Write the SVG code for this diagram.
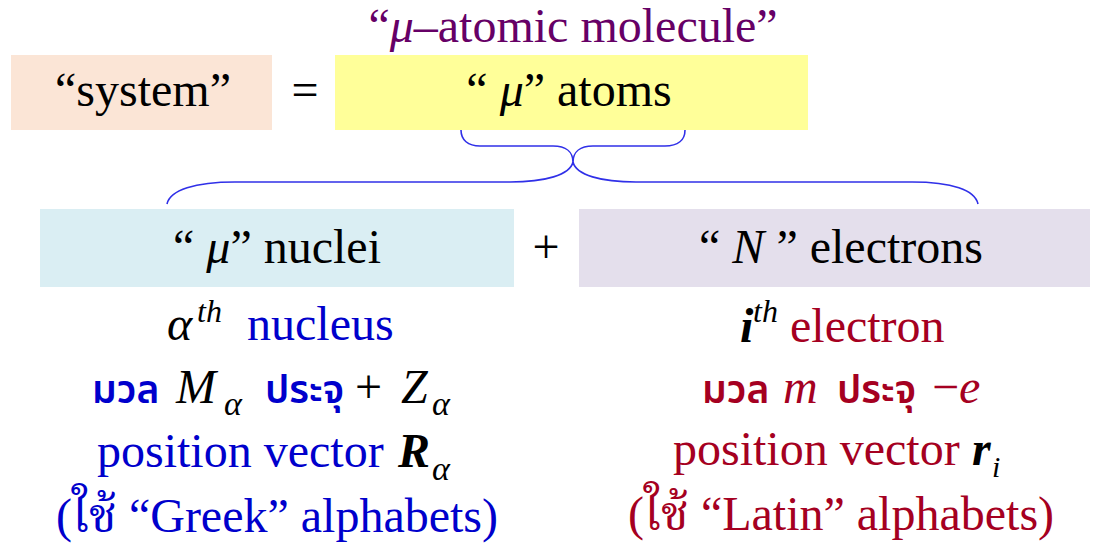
<svg xmlns="http://www.w3.org/2000/svg" width="1104" height="546" viewBox="0 0 1104 546">
<style>
text{font-family:'Liberation Serif','Times New Roman',serif;font-size:48px;fill:#000}
.i{font-style:italic}
.bi{font-style:italic;font-weight:bold}
.th{font-family:'Noto Sans Thai','Noto Sans','DejaVu Sans',sans-serif;font-size:39px;font-weight:600}
.tl{font-family:'Liberation Serif','Noto Serif Thai','Noto Sans Thai',serif}
.sup{font-size:32px;font-style:italic}
.sub{font-size:34px;font-style:italic}
.blue{fill:#0000CC}
.red{fill:#A50021}
.brace{fill:none;stroke:#3030E8;stroke-width:1.6}
</style>
<rect width="1104" height="546" fill="#fff"/>
<g font-family="Liberation Serif, serif">
<g id="title">
<text x="573" y="42" text-anchor="middle" style="fill:#660066">“<tspan class="i">μ</tspan>–atomic molecule”</text>
</g>
<g id="system">
<rect x="11" y="55" width="261" height="75" fill="#FBE5D6"/>
<text x="143" y="106" text-anchor="middle">“system”</text>
</g>
<g id="equals">
<text x="305" y="106" text-anchor="middle">=</text>
</g>
<g id="atoms">
<rect x="335" y="55" width="473" height="75" fill="#FFFF99"/>
<text x="569" y="106" text-anchor="middle">“ <tspan class="i">μ</tspan>” atoms</text>
</g>
<g id="connectors">
<path class="brace" d="M461,130 C461,140 468,146 480,146 L553,146 C566,146 573,152 573,162 C573,152 580,146 593,146 L665,146 C678,146 685,140 685,130"/>
<path class="brace" d="M167,204 C170,190 195,182 235,182 L510,182 C545,182 570,175 573,162 C576,175 601,182 636,182 L912,182 C952,182 975,190 978,204"/>
</g>
<g id="nuclei">
<rect x="40" y="209" width="474" height="78" fill="#DAEEF3"/>
<text x="277" y="263" text-anchor="middle">“ <tspan class="i">μ</tspan>” nuclei</text>
<text x="167" y="340" class="i">α</text>
<text x="197" y="322" class="sup">th</text>
<text x="247" y="340" class="blue">nucleus</text>
<text x="92" y="403" class="th blue">มวล</text>
<text x="176" y="403" class="i">M</text>
<text x="224" y="415" class="sub">α</text>
<text x="265" y="403" class="th blue">ประจุ</text>
<text x="355" y="403">+</text>
<text x="401" y="403" class="i">Z</text>
<text x="432" y="415" class="sub">α</text>
<text x="97" y="467" class="blue">position vector</text>
<text x="398" y="467" class="bi">R</text>
<text x="432" y="480" class="sub">α</text>
<text x="277" y="532" text-anchor="middle" class="tl blue">(ใช้ “Greek” alphabets)</text>
</g>
<g id="plus">
<text x="546" y="263" text-anchor="middle">+</text>
</g>
<g id="electrons">
<rect x="579" y="209" width="511" height="78" fill="#E4DFEC"/>
<text x="841" y="263" text-anchor="middle">“ <tspan class="i">N</tspan> ” electrons</text>
<text x="740" y="342" class="bi">i</text>
<text x="753" y="322" class="sup">th</text>
<text x="790" y="342" class="red">electron</text>
<text x="702" y="403" class="th red">มวล</text>
<text x="783" y="403" class="i red">m</text>
<text x="837" y="403" class="th red">ประจุ</text>
<text x="932" y="403" class="red">−<tspan class="i">e</tspan></text>
<text x="673" y="465" class="red">position vector</text>
<text x="972" y="465" class="bi">r</text>
<text x="992" y="477" class="sub" style="font-size:30px">i</text>
<text x="841" y="530" text-anchor="middle" class="tl red">(ใช้ “Latin” alphabets)</text>
</g>
</g>
</svg>
